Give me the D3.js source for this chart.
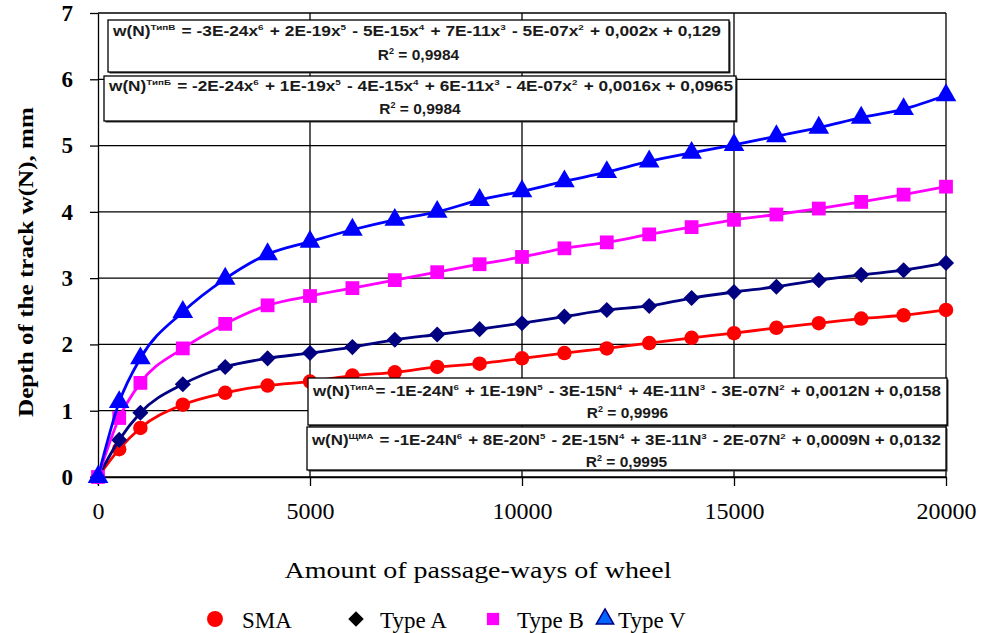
<!DOCTYPE html>
<html>
<head>
<meta charset="utf-8">
<script src="https://cdn.jsdelivr.net/npm/d3@7"></script>
<style>
  body { margin: 0; background: #fff; }
  svg { display: block; }
  .tick line { stroke: #000; stroke-width: 1.3; }
  .domain { stroke: #000; stroke-width: 1.3; }
</style>
</head>
<body>
<svg id="svg" width="981" height="633"></svg>
<script>
// DATA
var passes = [0, 500, 1000, 2000, 3000, 4000, 5000, 6000, 7000, 8000, 9000, 10000,
  11000, 12000, 13000, 14000, 15000, 16000, 17000, 18000, 19000, 20000];
var sma   = [0, 0.42, 0.74, 1.09, 1.27, 1.38, 1.44, 1.53, 1.58, 1.66, 1.71, 1.79,
  1.87, 1.94, 2.02, 2.1, 2.17, 2.25, 2.32, 2.39, 2.44, 2.52];
var typeA = [0, 0.56, 0.97, 1.4, 1.66, 1.79, 1.87, 1.96, 2.07, 2.15, 2.23, 2.32,
  2.42, 2.52, 2.58, 2.7, 2.79, 2.87, 2.97, 3.05, 3.12, 3.23];
var typeB = [0, 0.89, 1.42, 1.94, 2.31, 2.59, 2.73, 2.85, 2.97, 3.09, 3.21, 3.32,
  3.45, 3.54, 3.66, 3.77, 3.88, 3.96, 4.05, 4.15, 4.26, 4.38];
var typeV = [0, 1.13, 1.79, 2.49, 2.99, 3.36, 3.55, 3.73, 3.88, 4.0, 4.18, 4.31,
  4.46, 4.6, 4.76, 4.89, 5.01, 5.14, 5.27, 5.42, 5.55, 5.76];
var seriesNames = ["SMA", "Type A", "Type B", "Type V"];
var xTicks = [0, 5000, 10000, 15000, 20000];
var yTicks = [0, 1, 2, 3, 4, 5, 6, 7];

// trend equations: [text, superscript] pairs
var equations = [
  { line: [["w(N)", ""], ["", "ТипВ"], ["  = -3E-24x", "6"], [" + 2E-19x", "5"], [" - 5E-15x", "4"], [" + 7E-11x", "3"], [" - 5E-07x", "2"], [" + 0,002x + 0,129", ""]],
    r2: "0,9984" },
  { line: [["w(N)", ""], ["", "ТипБ"], [" = -2E-24x", "6"], [" + 1E-19x", "5"], [" - 4E-15x", "4"], [" + 6E-11x", "3"], [" - 4E-07x", "2"], [" + 0,0016x + 0,0965", ""]],
    r2: "0,9984" },
  { line: [["w(N)", ""], ["", "ТипА"], ["= -1E-24N", "6"], [" + 1E-19N", "5"], [" - 3E-15N", "4"], [" + 4E-11N", "3"], [" - 3E-07N", "2"], [" + 0,0012N + 0,0158", ""]],
    r2: "0,9996" },
  { line: [["w(N)", ""], ["", "ЩМА"], [" = -1E-24N", "6"], [" + 8E-20N", "5"], [" - 2E-15N", "4"], [" + 3E-11N", "3"], [" - 2E-07N", "2"], [" + 0,0009N + 0,0132", ""]],
    r2: "0,9995" }
];

// SETUP
var svg = d3.select("#svg"),
  margin = { top: 13, right: 35, bottom: 156, left: 98 },
  width = 981 - margin.left - margin.right,
  height = 633 - margin.top - margin.bottom;

var x = d3.scaleLinear().domain([0, 20000]).range([0, width]);
var y = d3.scaleLinear().domain([0, 7]).range([height, 0]);

var serif = "'Liberation Serif', 'Times New Roman', serif";
var sans = "'Liberation Sans', Arial, sans-serif";

var g = svg.append("g")
  .attr("transform", "translate(" + margin.left + "," + margin.top + ")");

// grid
g.selectAll(".hgrid")
  .data(yTicks)
  .enter().append("line")
  .attr("x1", 0).attr("x2", width)
  .attr("y1", function (d) { return y(d); })
  .attr("y2", function (d) { return y(d); })
  .attr("stroke", "#000").attr("stroke-width", 1.3);

g.selectAll(".vgrid")
  .data(xTicks.slice(1))
  .enter().append("line")
  .attr("x1", function (d) { return x(d); })
  .attr("x2", function (d) { return x(d); })
  .attr("y1", 0).attr("y2", height)
  .attr("stroke", "#000").attr("stroke-width", 1.3);

// axes
var yAxis = g.append("g")
  .call(d3.axisLeft(y).tickValues(yTicks).tickSize(8).tickPadding(17).tickSizeOuter(0)
    .tickFormat(d3.format("d")));
yAxis.selectAll("text")
  .attr("font-family", serif).attr("font-size", 23).attr("font-weight", "bold")
  .attr("fill", "#000");

var xAxis = g.append("g")
  .attr("transform", "translate(0," + height + ")")
  .call(d3.axisBottom(x).tickValues(xTicks).tickSize(9).tickPadding(16).tickSizeOuter(0)
    .tickFormat(d3.format("d")));
xAxis.selectAll("text")
  .attr("font-family", serif).attr("font-size", 24)
  .attr("fill", "#000");

// series
var colors = ["#ff0000", "#000080", "#ff00ff", "#0000ff"];
var values = [sma, typeA, typeB, typeV];
var shapes = [
  { type: d3.symbolCircle, size: 165, rot: 0 },
  { type: d3.symbolSquare, size: 130, rot: 45 },
  { type: d3.symbolSquare, size: 190, rot: 0 },
  { type: d3.symbolTriangle, size: 185, rot: 0 }
];

var line = d3.line()
  .x(function (d) { return x(d[0]); })
  .y(function (d) { return y(d[1]); })
  .curve(d3.curveMonotoneX);

values.forEach(function (vals, k) {
  var pts = passes.map(function (p, i) { return [p, vals[i]]; });
  g.append("path")
    .datum(pts)
    .attr("fill", "none")
    .attr("stroke", colors[k])
    .attr("stroke-width", 2.8)
    .attr("d", line);
  g.selectAll(".m" + k)
    .data(pts)
    .enter().append("path")
    .attr("transform", function (d) {
      return "translate(" + x(d[0]) + "," + y(d[1]) + ") rotate(" + shapes[k].rot + ")";
    })
    .attr("d", d3.symbol().type(shapes[k].type).size(shapes[k].size))
    .attr("fill", colors[k]);
});

// equation boxes (pixel layout)
var boxes = [
  { x: 108, y: 20, w: 621, h: 52, l1: 36, l2: 60, tx: 113, tw: 608 },
  { x: 104, y: 76, w: 632, h: 45, l1: 91, l2: 114, tx: 109, tw: 624 },
  { x: 308, y: 378, w: 639, h: 47, l1: 396, l2: 418, tx: 313, tw: 628 },
  { x: 307, y: 427, w: 639, h: 43, l1: 445, l2: 467, tx: 312, tw: 629 }
];

boxes.forEach(function (b, i) {
  svg.append("rect")
    .attr("x", b.x + 1.5).attr("y", b.y + 1.5)
    .attr("width", b.w).attr("height", b.h)
    .attr("fill", "#333");
  svg.append("rect")
    .attr("x", b.x).attr("y", b.y)
    .attr("width", b.w).attr("height", b.h)
    .attr("fill", "#fff").attr("stroke", "#000").attr("stroke-width", 1.3);

  var t = svg.append("text")
    .attr("x", b.tx).attr("y", b.l1)
    .attr("font-family", sans).attr("font-size", 14).attr("font-weight", "bold")
    .attr("fill", "#1a1a1a")
    .attr("textLength", b.tw).attr("lengthAdjust", "spacingAndGlyphs");
  equations[i].line.forEach(function (part) {
    if (part[0]) t.append("tspan").attr("dy", 0).text(part[0]);
    if (part[1]) {
      t.append("tspan").attr("font-size", 8).attr("dy", -6).text(part[1]);
      t.append("tspan").attr("dy", 6).text("\u200a");
    }
  });

  var r = svg.append("text")
    .attr("x", b.x + b.w / 2).attr("y", b.l2)
    .attr("text-anchor", "middle")
    .attr("font-family", sans).attr("font-size", 15.5).attr("font-weight", "bold")
    .attr("fill", "#1a1a1a");
  r.append("tspan").text("R");
  r.append("tspan").attr("font-size", 9).attr("dy", -6).text("2");
  r.append("tspan").attr("dy", 6).text(" = " + equations[i].r2);
});

// titles
svg.append("text")
  .attr("x", 478).attr("y", 578)
  .attr("text-anchor", "middle")
  .attr("font-family", serif).attr("font-size", 23)
  .attr("textLength", 387).attr("lengthAdjust", "spacingAndGlyphs")
  .text("Amount of passage-ways of wheel");

svg.append("text")
  .attr("transform", "translate(33,262) rotate(-90)")
  .attr("text-anchor", "middle")
  .attr("font-family", serif).attr("font-size", 22).attr("font-weight", "bold")
  .attr("textLength", 310).attr("lengthAdjust", "spacingAndGlyphs")
  .text("Depth of the track w(N), mm");

// legend
var legendX = [215, 356, 493, 605];
var legendShapes = [
  { type: d3.symbolCircle, size: 200, rot: 0 },
  { type: d3.symbolSquare, size: 120, rot: 45 },
  { type: d3.symbolSquare, size: 150, rot: 0 },
  { type: d3.symbolTriangle, size: 130, rot: 0 }
];
var legendColors = ["#ff0000", "#000000", "#ff00ff", "#0066ff"];

var legend = svg.append("g").selectAll("g")
  .data(seriesNames)
  .enter().append("g")
  .attr("transform", function (d, i) { return "translate(" + legendX[i] + ",619)"; });

legend.append("path")
  .attr("transform", function (d, i) { return "rotate(" + legendShapes[i].rot + ")"; })
  .attr("d", function (d, i) { return d3.symbol().type(legendShapes[i].type).size(legendShapes[i].size)(); })
  .attr("fill", function (d, i) { return legendColors[i]; })
  .attr("stroke", function (d, i) { return i == 3 ? "#000080" : "none"; })
  .attr("stroke-width", 1.5);

legend.append("text")
  .attr("x", function (d, i) { return i == 3 ? 13 : (i == 0 ? 27 : 24); })
  .attr("y", 9)
  .attr("font-family", serif).attr("font-size", 23)
  .attr("fill", "#000")
  .text(function (d) { return d; });
</script>
</body>
</html>
